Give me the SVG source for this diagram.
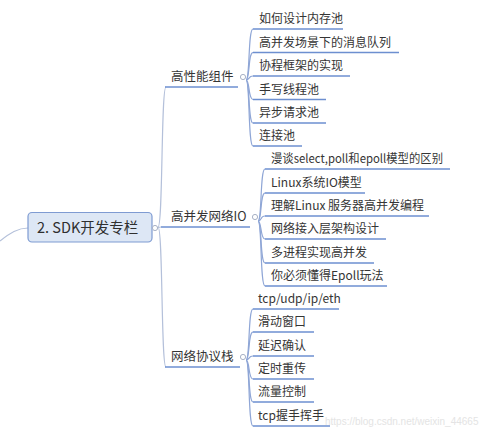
<svg xmlns="http://www.w3.org/2000/svg" width="480" height="442" viewBox="0 0 480 442">
<style>
text{font-family:"Noto Sans CJK SC","Liberation Sans",sans-serif;fill:#353535}
.l1{font-size:12.5px}
.l2{font-size:12px}
.root{font-size:14.5px;fill:#2f2f2f}
.ul{stroke:#6d8fd0;stroke-width:1.6;fill:none}
.cn{stroke:#8fa6d6;stroke-width:1.2;fill:none}
.tr{stroke:#b4c0da;stroke-width:1.2;fill:none}
.dot{fill:#fff;stroke:#a8b2c6;stroke-width:1}
.wm{font-family:"Liberation Sans",sans-serif;font-size:10px;fill:#e4e4e4}
</style>
<rect width="480" height="442" fill="#fff"/>
<g id="connectors">
<path class="tr" d="M0 241 C10 233 18 228 28 228"/>
<path class="tr" d="M155 228 L161 227"/>
<path class="tr" d="M158 227 C163 227 161 87 166 87"/>
<path class="tr" d="M158 227 C163 227 161 367 166 367"/>
<path class="cn" d="M246 80 C250 80 248 29 253 29"/>
<path class="cn" d="M246 80 C250 80 248 52.5 253 52.5"/>
<path class="cn" d="M246 80 C250 80 248 76 253 76"/>
<path class="cn" d="M246 80 C250 80 248 99.5 253 99.5"/>
<path class="cn" d="M246 80 C250 80 248 123 253 123"/>
<path class="cn" d="M246 80 C250 80 248 146 253 146"/>
<path class="cn" d="M258 221 C262 221 260 169 265 169"/>
<path class="cn" d="M258 221 C262 221 260 193 265 193"/>
<path class="cn" d="M258 221 C262 221 260 216 265 216"/>
<path class="cn" d="M258 221 C262 221 260 239 265 239"/>
<path class="cn" d="M258 221 C262 221 260 263 265 263"/>
<path class="cn" d="M258 221 C262 221 260 286 265 286"/>
<path class="cn" d="M246 360 C250 360 248 309 253 309"/>
<path class="cn" d="M246 360 C250 360 248 332 253 332"/>
<path class="cn" d="M246 360 C250 360 248 356 253 356"/>
<path class="cn" d="M246 360 C250 360 248 379 253 379"/>
<path class="cn" d="M246 360 C250 360 248 402 253 402"/>
<path class="cn" d="M246 360 C250 360 248 426 253 426"/>
</g>
<g id="root">
<rect x="28" y="212.5" width="124" height="29.5" rx="4" fill="#dde7f5" stroke="#7e9bd2" stroke-width="1.2"/>
<text class="root" x="37" y="233">2. SDK开发专栏</text>
<circle class="dot" cx="155" cy="228" r="2.6"/>
</g>
<g id="n-gxnzj">
<line class="ul" x1="165" y1="87" x2="238" y2="87"/>
<text class="l1" x="171" y="81">高性能组件</text>
<circle class="dot" cx="243" cy="77" r="2.6"/>
</g>
<g id="n-gbfwlio">
<line class="ul" x1="161" y1="227" x2="250" y2="227"/>
<text class="l1" x="171" y="221">高并发网络IO</text>
<circle class="dot" cx="255" cy="217" r="2.6"/>
</g>
<g id="n-wlxyz">
<line class="ul" x1="165" y1="367" x2="240" y2="367"/>
<text class="l1" x="171" y="361">网络协议栈</text>
<circle class="dot" cx="243" cy="357" r="2.6"/>
</g>
<g id="n-a1"><line class="ul" x1="253" y1="29" x2="343" y2="29"/><text class="l2" x="259" y="23">如何设计内存池</text></g>
<g id="n-a2"><line class="ul" x1="253" y1="52.5" x2="399" y2="52.5"/><text class="l2" x="259" y="46.5">高并发场景下的消息队列</text></g>
<g id="n-a3"><line class="ul" x1="253" y1="76" x2="350" y2="76"/><text class="l2" x="259" y="70">协程框架的实现</text></g>
<g id="n-a4"><line class="ul" x1="253" y1="99.5" x2="326" y2="99.5"/><text class="l2" x="259" y="93.5">手写线程池</text></g>
<g id="n-a5"><line class="ul" x1="253" y1="123" x2="326" y2="123"/><text class="l2" x="259" y="117">异步请求池</text></g>
<g id="n-a6"><line class="ul" x1="253" y1="146" x2="302" y2="146"/><text class="l2" x="259" y="140">连接池</text></g>
<g id="n-b1"><line class="ul" x1="265" y1="169" x2="450" y2="169"/><text class="l2" x="271" y="163" textLength="172" lengthAdjust="spacingAndGlyphs">漫谈select,poll和epoll模型的区别</text></g>
<g id="n-b2"><line class="ul" x1="265" y1="193" x2="365" y2="193"/><text class="l2" x="271" y="187">Linux系统IO模型</text></g>
<g id="n-b3"><line class="ul" x1="265" y1="216" x2="429" y2="216"/><text class="l2" x="271" y="210">理解Linux 服务器高并发编程</text></g>
<g id="n-b4"><line class="ul" x1="265" y1="239" x2="386" y2="239"/><text class="l2" x="271" y="233">网络接入层架构设计</text></g>
<g id="n-b5"><line class="ul" x1="265" y1="263" x2="374" y2="263"/><text class="l2" x="271" y="257">多进程实现高并发</text></g>
<g id="n-b6"><line class="ul" x1="265" y1="286" x2="387" y2="286"/><text class="l2" x="271" y="280">你必须懂得Epoll玩法</text></g>
<g id="n-c1"><line class="ul" x1="253" y1="309" x2="339" y2="309"/><text class="l2" x="258" y="303">tcp/udp/ip/eth</text></g>
<g id="n-c2"><line class="ul" x1="253" y1="332" x2="314" y2="332"/><text class="l2" x="258" y="326">滑动窗口</text></g>
<g id="n-c3"><line class="ul" x1="253" y1="356" x2="314" y2="356"/><text class="l2" x="258" y="350">延迟确认</text></g>
<g id="n-c4"><line class="ul" x1="253" y1="379" x2="314" y2="379"/><text class="l2" x="258" y="373">定时重传</text></g>
<g id="n-c5"><line class="ul" x1="253" y1="402" x2="314" y2="402"/><text class="l2" x="258" y="396">流量控制</text></g>
<g id="n-c6"><line class="ul" x1="253" y1="426" x2="330" y2="426"/><text class="l2" x="258" y="420">tcp握手挥手</text></g>
<text class="wm" x="325" y="425">https://blog.csdn.net/weixin_44665</text>
</svg>
